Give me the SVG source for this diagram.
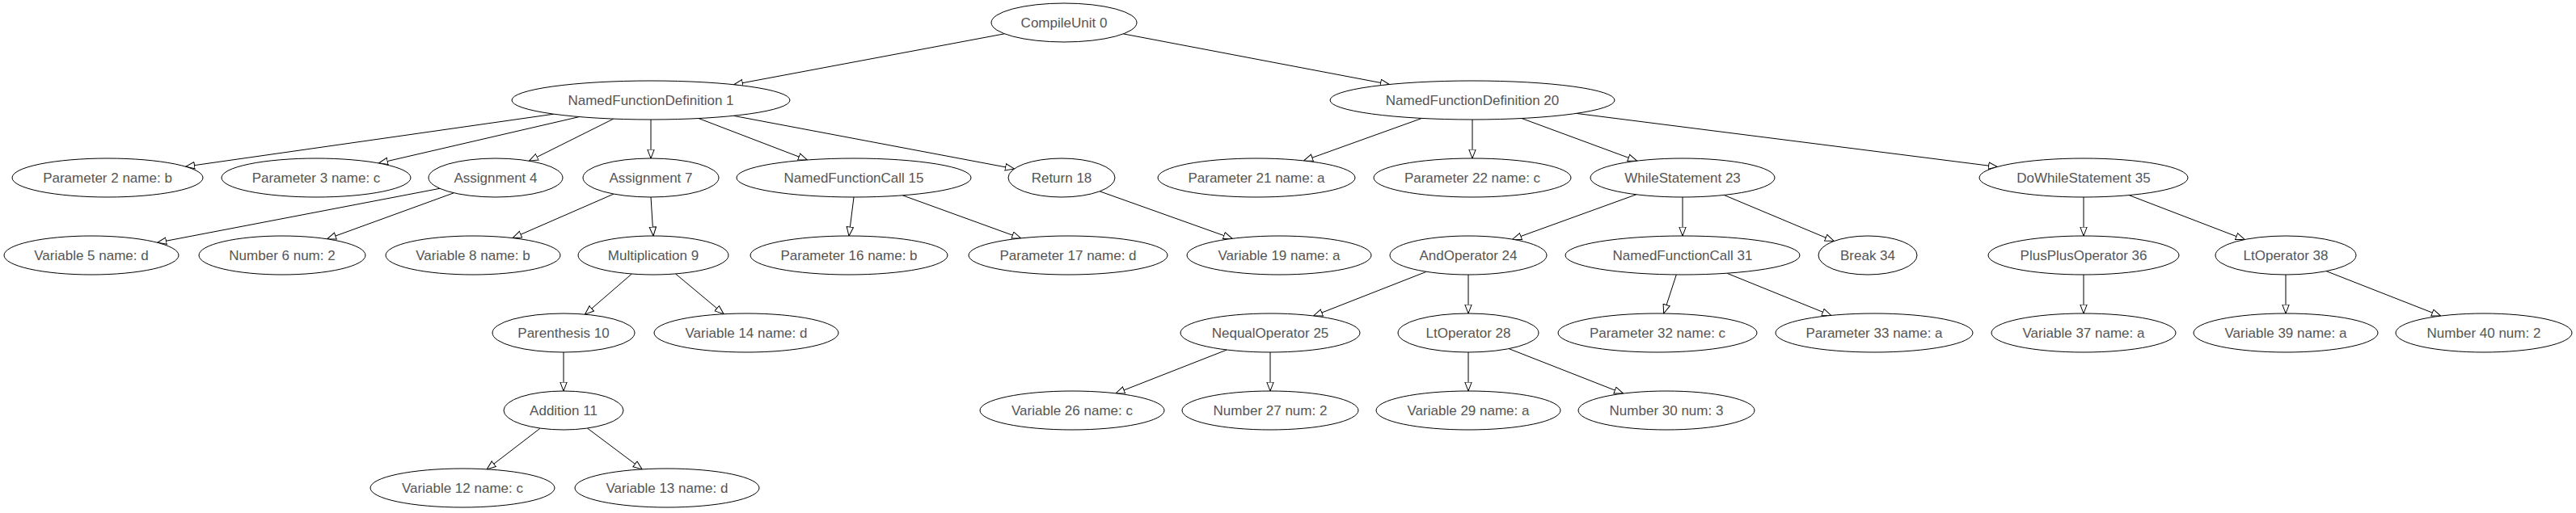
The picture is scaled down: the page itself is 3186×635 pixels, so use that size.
<svg xmlns="http://www.w3.org/2000/svg" width="3186" height="635" viewBox="0 0 3186 635">
<style>
.bg{fill:#ffffff}
.node ellipse{fill:#ffffff;stroke:#000000;stroke-width:1}
.node text{font-family:"Liberation Sans",Arial,sans-serif;font-size:17px;fill:#555555;text-anchor:middle;dominant-baseline:central}
#edges line{stroke:#000000;stroke-width:1;marker-end:url(#arr)}
</style>
<defs>
<marker id="arr" markerUnits="userSpaceOnUse" markerWidth="14" markerHeight="12" refX="11.5" refY="5" orient="auto">
<path d="M0.5,0.8 L11.5,5 L0.5,9.2 Z" fill="#ffffff" stroke="#000000" stroke-width="1"/>
</marker>
</defs>
<rect class="bg" x="0" y="0" width="3186" height="635"/>
<g id="edges">
<line x1="1242.4" y1="41.8" x2="907.6" y2="104.7"/>
<line x1="1389.3" y1="41.9" x2="1718.4" y2="104.5"/>
<line x1="684.8" y1="141.2" x2="229.6" y2="206.2"/>
<line x1="716.3" y1="144.6" x2="468.5" y2="202.0"/>
<line x1="758.8" y1="147.1" x2="654.5" y2="199.2"/>
<line x1="805" y1="148" x2="805" y2="196"/>
<line x1="864.0" y1="146.5" x2="998.4" y2="198.0"/>
<line x1="907.2" y1="143.3" x2="1254.4" y2="208.9"/>
<line x1="1758.6" y1="146.4" x2="1612.6" y2="198.9"/>
<line x1="1821" y1="148" x2="1821" y2="196"/>
<line x1="1882.0" y1="146.5" x2="2024.5" y2="199.1"/>
<line x1="1949.8" y1="140.4" x2="2470.5" y2="206.5"/>
<line x1="543.9" y1="233.3" x2="194.7" y2="300.3"/>
<line x1="561.3" y1="238.8" x2="404.6" y2="295.8"/>
<line x1="759.0" y1="240.1" x2="634.0" y2="294.6"/>
<line x1="805" y1="244" x2="808" y2="292"/>
<line x1="1056" y1="244" x2="1050" y2="292"/>
<line x1="1116.3" y1="241.8" x2="1262.7" y2="294.9"/>
<line x1="1360.1" y1="236.8" x2="1524.1" y2="295.3"/>
<line x1="2023.7" y1="240.8" x2="1870.7" y2="296.2"/>
<line x1="2081" y1="244" x2="2081" y2="292"/>
<line x1="2132.2" y1="241.4" x2="2268.3" y2="298.5"/>
<line x1="2577" y1="244" x2="2577" y2="292"/>
<line x1="2633.2" y1="241.6" x2="2776.2" y2="296.5"/>
<line x1="781.4" y1="339.0" x2="723.5" y2="389.1"/>
<line x1="835.5" y1="338.9" x2="895.1" y2="388.7"/>
<line x1="697" y1="436" x2="697" y2="484"/>
<line x1="668.2" y1="530.1" x2="602.1" y2="580.9"/>
<line x1="726.4" y1="530.0" x2="794.2" y2="580.9"/>
<line x1="1764.2" y1="336.3" x2="1624.6" y2="391.0"/>
<line x1="1816" y1="340" x2="1816" y2="388"/>
<line x1="2073.3" y1="340.0" x2="2057.7" y2="388.0"/>
<line x1="2135.8" y1="338.2" x2="2264.7" y2="390.4"/>
<line x1="2577" y1="340" x2="2577" y2="388"/>
<line x1="2827" y1="340" x2="2827" y2="388"/>
<line x1="2877.1" y1="335.6" x2="3018.6" y2="391.1"/>
<line x1="1517.4" y1="433.0" x2="1379.9" y2="486.9"/>
<line x1="1571" y1="436" x2="1571" y2="484"/>
<line x1="1816" y1="436" x2="1816" y2="484"/>
<line x1="1866.1" y1="431.6" x2="2007.6" y2="487.1"/>
</g>
<g id="n0" class="node"><ellipse cx="1316" cy="28" rx="90" ry="24"/><text x="1316" y="28">CompileUnit 0</text></g>
<g id="n1" class="node"><ellipse cx="805" cy="124" rx="172" ry="24"/><text x="805" y="124">NamedFunctionDefinition 1</text></g>
<g id="n20" class="node"><ellipse cx="1821" cy="124" rx="176" ry="24"/><text x="1821" y="124">NamedFunctionDefinition 20</text></g>
<g id="n2" class="node"><ellipse cx="133" cy="220" rx="118" ry="24"/><text x="133" y="220">Parameter 2 name: b</text></g>
<g id="n3" class="node"><ellipse cx="391" cy="220" rx="117" ry="24"/><text x="391" y="220">Parameter 3 name: c</text></g>
<g id="n4" class="node"><ellipse cx="613" cy="220" rx="83" ry="24"/><text x="613" y="220">Assignment 4</text></g>
<g id="n7" class="node"><ellipse cx="805" cy="220" rx="84" ry="24"/><text x="805" y="220">Assignment 7</text></g>
<g id="n15" class="node"><ellipse cx="1056" cy="220" rx="145" ry="24"/><text x="1056" y="220">NamedFunctionCall 15</text></g>
<g id="n18" class="node"><ellipse cx="1313" cy="220" rx="66" ry="24"/><text x="1313" y="220">Return 18</text></g>
<g id="n21" class="node"><ellipse cx="1554" cy="220" rx="122" ry="24"/><text x="1554" y="220">Parameter 21 name: a</text></g>
<g id="n22" class="node"><ellipse cx="1821" cy="220" rx="122" ry="24"/><text x="1821" y="220">Parameter 22 name: c</text></g>
<g id="n23" class="node"><ellipse cx="2081" cy="220" rx="114" ry="24"/><text x="2081" y="220">WhileStatement 23</text></g>
<g id="n35" class="node"><ellipse cx="2577" cy="220" rx="129" ry="24"/><text x="2577" y="220">DoWhileStatement 35</text></g>
<g id="n5" class="node"><ellipse cx="113" cy="316" rx="108" ry="24"/><text x="113" y="316">Variable 5 name: d</text></g>
<g id="n6" class="node"><ellipse cx="349" cy="316" rx="103" ry="24"/><text x="349" y="316">Number 6 num: 2</text></g>
<g id="n8" class="node"><ellipse cx="585" cy="316" rx="108" ry="24"/><text x="585" y="316">Variable 8 name: b</text></g>
<g id="n9" class="node"><ellipse cx="808" cy="316" rx="93" ry="24"/><text x="808" y="316">Multiplication 9</text></g>
<g id="n16" class="node"><ellipse cx="1050" cy="316" rx="122" ry="24"/><text x="1050" y="316">Parameter 16 name: b</text></g>
<g id="n17" class="node"><ellipse cx="1321" cy="316" rx="123" ry="24"/><text x="1321" y="316">Parameter 17 name: d</text></g>
<g id="n19" class="node"><ellipse cx="1582" cy="316" rx="114" ry="24"/><text x="1582" y="316">Variable 19 name: a</text></g>
<g id="n24" class="node"><ellipse cx="1816" cy="316" rx="97" ry="24"/><text x="1816" y="316">AndOperator 24</text></g>
<g id="n31" class="node"><ellipse cx="2081" cy="316" rx="145" ry="24"/><text x="2081" y="316">NamedFunctionCall 31</text></g>
<g id="n34" class="node"><ellipse cx="2310" cy="316" rx="61" ry="24"/><text x="2310" y="316">Break 34</text></g>
<g id="n36" class="node"><ellipse cx="2577" cy="316" rx="118" ry="24"/><text x="2577" y="316">PlusPlusOperator 36</text></g>
<g id="n38" class="node"><ellipse cx="2827" cy="316" rx="87" ry="24"/><text x="2827" y="316">LtOperator 38</text></g>
<g id="n10" class="node"><ellipse cx="697" cy="412" rx="88" ry="24"/><text x="697" y="412">Parenthesis 10</text></g>
<g id="n14" class="node"><ellipse cx="923" cy="412" rx="114" ry="24"/><text x="923" y="412">Variable 14 name: d</text></g>
<g id="n25" class="node"><ellipse cx="1571" cy="412" rx="111" ry="24"/><text x="1571" y="412">NequalOperator 25</text></g>
<g id="n28" class="node"><ellipse cx="1816" cy="412" rx="87" ry="24"/><text x="1816" y="412">LtOperator 28</text></g>
<g id="n32" class="node"><ellipse cx="2050" cy="412" rx="123" ry="24"/><text x="2050" y="412">Parameter 32 name: c</text></g>
<g id="n33" class="node"><ellipse cx="2318" cy="412" rx="122" ry="24"/><text x="2318" y="412">Parameter 33 name: a</text></g>
<g id="n37" class="node"><ellipse cx="2577" cy="412" rx="114" ry="24"/><text x="2577" y="412">Variable 37 name: a</text></g>
<g id="n39" class="node"><ellipse cx="2827" cy="412" rx="114" ry="24"/><text x="2827" y="412">Variable 39 name: a</text></g>
<g id="n40" class="node"><ellipse cx="3072" cy="412" rx="109" ry="24"/><text x="3072" y="412">Number 40 num: 2</text></g>
<g id="n11" class="node"><ellipse cx="697" cy="508" rx="74" ry="24"/><text x="697" y="508">Addition 11</text></g>
<g id="n26" class="node"><ellipse cx="1326" cy="508" rx="114" ry="24"/><text x="1326" y="508">Variable 26 name: c</text></g>
<g id="n27" class="node"><ellipse cx="1571" cy="508" rx="109" ry="24"/><text x="1571" y="508">Number 27 num: 2</text></g>
<g id="n29" class="node"><ellipse cx="1816" cy="508" rx="114" ry="24"/><text x="1816" y="508">Variable 29 name: a</text></g>
<g id="n30" class="node"><ellipse cx="2061" cy="508" rx="109" ry="24"/><text x="2061" y="508">Number 30 num: 3</text></g>
<g id="n12" class="node"><ellipse cx="572" cy="604" rx="114" ry="24"/><text x="572" y="604">Variable 12 name: c</text></g>
<g id="n13" class="node"><ellipse cx="825" cy="604" rx="114" ry="24"/><text x="825" y="604">Variable 13 name: d</text></g>
</svg>
